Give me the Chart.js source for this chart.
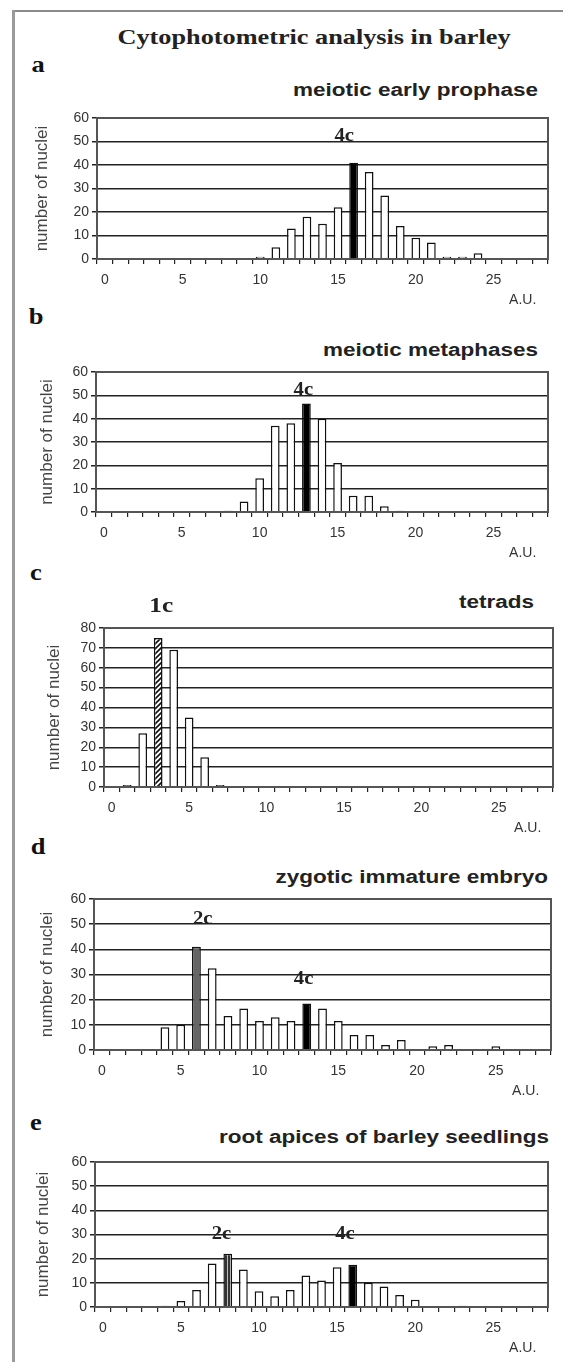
<!DOCTYPE html>
<html>
<head>
<meta charset="utf-8">
<script src="https://cdn.jsdelivr.net/npm/chart.js@4.4.0/dist/chart.umd.min.js"></script>
<style>
body { margin: 0; background: #fff; }
#page { position: relative; width: 563px; height: 1362px; overflow: hidden; background: #fff; }
.frameTop { position: absolute; left: 12px; top: 10px; width: 551px; border-top: 2px solid #8a8a8a; }
.frameLeft { position: absolute; left: 12px; top: 10px; height: 1352px; border-left: 3px solid #9a9a9a; }
.title { position: absolute; font-family: "Liberation Serif"; font-weight: bold; font-size: 21px; color: #222; white-space: nowrap; transform: translate(-50%, -50%) scaleX(1.25); }
.letter { position: absolute; font-family: "Liberation Serif"; font-weight: bold; font-size: 23px; color: #111; transform: translate(-50%, -50%) scaleX(1.15); }
.sub { position: absolute; font-family: "Liberation Sans"; font-weight: bold; font-size: 18px; color: #222; white-space: nowrap; transform-origin: right center; transform: translateY(-50%) scaleX(1.25); }
canvas.panel { position: absolute; left: 0; }
</style>
</head>
<body>
<div id="page">
  <div class="frameTop"></div>
  <div class="frameLeft"></div>
  <div class="title" style="left:314px; top:37px;">Cytophotometric analysis in barley</div>

  <div class="letter" style="left:38px; top:65px;">a</div>
  <div class="letter" style="left:36px; top:317px;">b</div>
  <div class="letter" style="left:36px; top:573px;">c</div>
  <div class="letter" style="left:38px; top:847px;">d</div>
  <div class="letter" style="left:36px; top:1123px;">e</div>

  <div class="sub" style="right:25px; top:90px;">meiotic early prophase</div>
  <div class="sub" style="right:25px; top:350px;">meiotic metaphases</div>
  <div class="sub" style="right:29px; top:602px;">tetrads</div>
  <div class="sub" style="right:15px; top:877px;">zygotic immature embryo</div>
  <div class="sub" style="right:14px; top:1137px;">root apices of barley seedlings</div>

  <canvas class="panel" id="chartA"></canvas>
  <canvas class="panel" id="chartB"></canvas>
  <canvas class="panel" id="chartC"></canvas>
  <canvas class="panel" id="chartD"></canvas>
  <canvas class="panel" id="chartE"></canvas>
</div>

<script>
// DNA content classes (A.U.)
const auLabels = ['0','1','2','3','4','5','6','7','8','9','10','11','12','13','14',
                  '15','16','17','18','19','20','21','22','23','24','25','26','27','28'];
const shownTicks = [0, 5, 10, 15, 20, 25];

// number of nuclei per class
const earlyProphase = [0,0,0,0,0,0,0,0,0,0, 1,5,13,18,15,22,41,37,27,14, 9,7,1,1,2.5,0,0,0,0];
const metaphases    = [0,0,0,0,0,0,0,0,0.5,4.5, 14.5,37,38,46.5,40,21,7,7,2.5,0.5, 0,0,0,0,0,0,0,0,0];
const tetrads       = [0,1,27,75,69,35,15,1,0,0, 0,0,0,0,0,0,0,0,0,0, 0,0,0,0,0,0,0,0,0];
const embryo        = [0,0,0,0,9,10,41,32.5,13.5,16.5, 11.5,13,11.5,18.5,16.5,11.5,6,6,2,4, 0,1.5,2,0,0,1.5,0,0,0];
const rootApices    = [0,0,0,0,0.5,2.5,7,18,22,15.5, 6.5,4.5,7,13,11,16.5,17.5,10,8.5,5, 3,0,0,0.5,0,0,0,0,0];

function hatchPattern() {
    var c = document.createElement('canvas');
    c.width = 5; c.height = 5;
    var g = c.getContext('2d');
    g.fillStyle = '#fff';
    g.fillRect(0, 0, 5, 5);
    g.strokeStyle = '#111';
    g.lineWidth = 1.6;
    g.beginPath();
    g.moveTo(-1, 6); g.lineTo(6, -1);
    g.moveTo(-3, 3); g.lineTo(3, -3);
    g.moveTo(2, 8); g.lineTo(8, 2);
    g.stroke();
    return g.createPattern(c, 'repeat');
}

function stripePattern() {
    var c = document.createElement('canvas');
    c.width = 3; c.height = 3;
    var g = c.getContext('2d');
    g.fillStyle = '#bbb';
    g.fillRect(0, 0, 3, 3);
    g.fillStyle = '#333';
    g.fillRect(0, 0, 2, 3);
    return g.createPattern(c, 'repeat');
}

// frame round the plot area
const framePlugin = {
    id: 'plotFrame',
    afterDatasetsDraw(chart) {
        var a = chart.chartArea, ctx = chart.ctx;
        ctx.save();
        ctx.strokeStyle = '#555';
        ctx.lineWidth = 2;
        ctx.strokeRect(a.left, a.top, a.right - a.left, a.bottom - a.top);
        ctx.restore();
    }
};

// 1c / 2c / 4c labels, placed through the scales
const notesPlugin = {
    id: 'cNotes',
    afterDraw(chart, args, opts) {
        var ctx = chart.ctx;
        (opts.items || []).forEach(function(n) {
            var x = chart.scales.x.getPixelForValue(n.at);
            var y = chart.scales.y.getPixelForValue(n.level);
            ctx.save();
            ctx.translate(x, y);
            ctx.scale(1.15, 1);
            ctx.font = 'bold ' + n.size + 'px "Liberation Serif"';
            ctx.fillStyle = '#222';
            ctx.textAlign = 'center';
            ctx.textBaseline = 'middle';
            ctx.fillText(n.text, 0, 0);
            ctx.restore();
        });
    }
};

Chart.defaults.font.family = '"Liberation Sans", Arial, sans-serif';

function makeChart(id, values, p) {
    var padTop = p.padTop || 14;
    var axisH = 56;
    var plotH = p.bottom - p.top;
    var canvas = document.getElementById(id);
    canvas.width = 563;
    canvas.height = Math.round(plotH + padTop + axisH);
    canvas.style.top = Math.round(p.top - padTop) + 'px';

    var padLeft = p.titleX - 10;
    var fills = values.map(function(v, i) { return p.fills[i] || '#fff'; });

    new Chart(canvas.getContext('2d'), {
        type: 'bar',
        data: {
            labels: auLabels,
            datasets: [{
                data: values,
                backgroundColor: fills,
                borderColor: '#111',
                borderWidth: 1.5,
                barPercentage: 0.56,
                categoryPercentage: 1.0
            }]
        },
        options: {
            responsive: false,
            animation: false,
            devicePixelRatio: 1,
            layout: { padding: { top: padTop, left: padLeft, right: 563 - p.right, bottom: 0 } },
            plugins: {
                legend: { display: false },
                tooltip: { enabled: false },
                cNotes: { items: p.notes }
            },
            scales: {
                x: {
                    type: 'category',
                    offset: true,
                    afterFit: function(s) { s.height = axisH; },
                    grid: { offset: true, drawOnChartArea: false, drawTicks: true, tickLength: 5, color: '#222', lineWidth: 1.2 },
                    border: { display: true, color: '#222', width: 1.5 },
                    ticks: {
                        autoSkip: false, maxRotation: 0, padding: 8,
                        color: '#333', font: { size: 14 },
                        callback: function(v, i) { return shownTicks.indexOf(i) >= 0 ? auLabels[i] : ''; }
                    },
                    title: {
                        display: true, text: 'A.U.\u00a0\u00a0\u00a0', align: 'end',
                        color: '#333', font: { size: 14 }, padding: { top: 0, bottom: 6 }
                    }
                },
                y: {
                    min: 0,
                    max: p.yMax,
                    afterFit: function(s) { s.width = p.left - padLeft; },
                    grid: { drawTicks: true, tickLength: 5, color: '#222', lineWidth: 1.5 },
                    border: { display: true, color: '#444', width: 1.5 },
                    ticks: { stepSize: 10, padding: 3, color: '#333', font: { size: 14 } },
                    title: {
                        display: true, text: 'number of nuclei',
                        color: '#444', font: { size: 17 }, padding: { top: 0, bottom: 0 }
                    }
                }
            }
        },
        plugins: [framePlugin, notesPlugin]
    });
}

makeChart('chartA', earlyProphase, {
    top: 118, bottom: 259, left: 97, right: 548, titleX: 42, yMax: 60,
    fills: { 16: '#000' },
    notes: [{ text: '4c', at: 15.4, level: 52, size: 18 }]
});

makeChart('chartB', metaphases, {
    top: 372, bottom: 512, left: 96, right: 548, titleX: 47, yMax: 60,
    fills: { 13: '#000' },
    notes: [{ text: '4c', at: 12.8, level: 52, size: 18 }]
});

makeChart('chartC', tetrads, {
    top: 628, bottom: 787, left: 104, right: 553, titleX: 54, yMax: 80, padTop: 44,
    fills: { 3: hatchPattern() },
    notes: [{ text: '1c', at: 3.2, level: 91, size: 22 }]
});

makeChart('chartD', embryo, {
    top: 899, bottom: 1050, left: 94, right: 551, titleX: 47, yMax: 60,
    fills: { 6: '#666', 13: '#000' },
    notes: [{ text: '2c', at: 6.4, level: 52, size: 18 }, { text: '4c', at: 12.8, level: 28, size: 18 }]
});

makeChart('chartE', rootApices, {
    top: 1162, bottom: 1307, left: 95, right: 548, titleX: 43, yMax: 60,
    fills: { 8: stripePattern(), 16: '#000' },
    notes: [{ text: '2c', at: 7.6, level: 30, size: 18 }, { text: '4c', at: 15.5, level: 30, size: 18 }]
});
</script>
</body>
</html>
